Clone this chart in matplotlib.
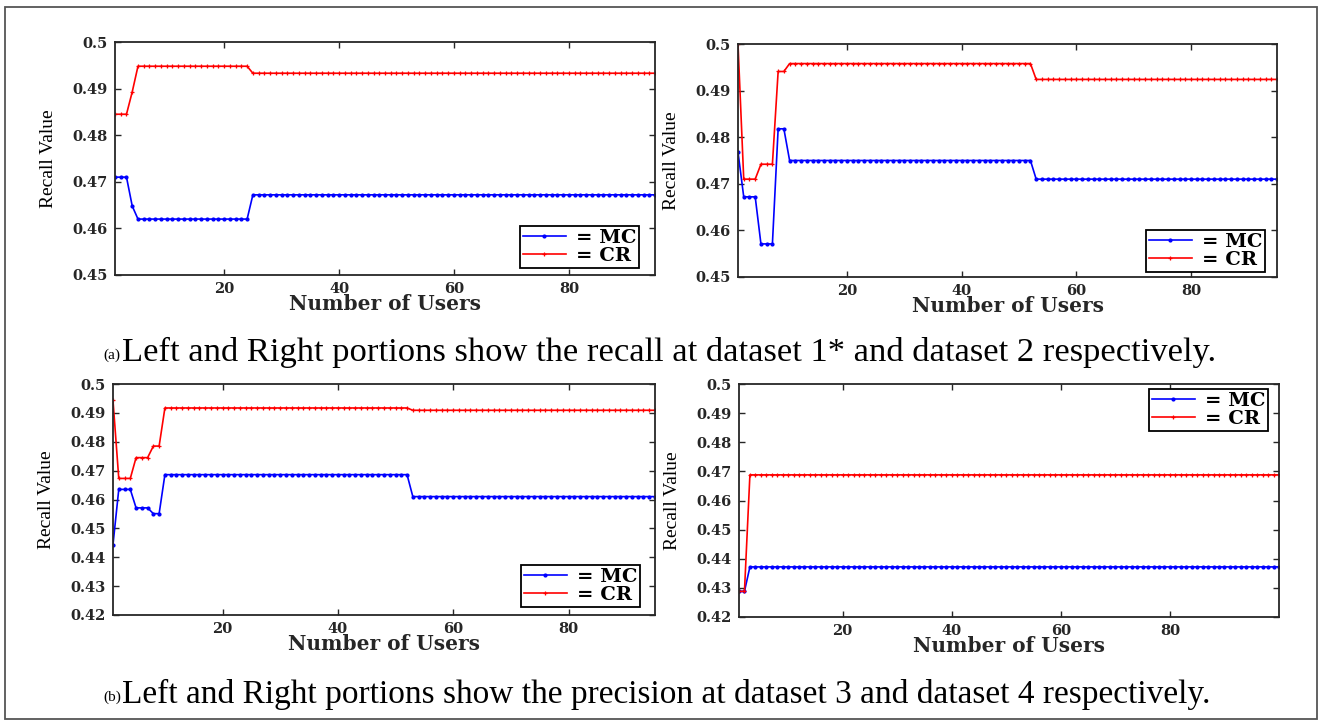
"""
Recall / precision vs number of users for four datasets (MC vs CR).
"""

import numpy as np
import matplotlib
matplotlib.use("Agg")
import matplotlib.pyplot as plt
from matplotlib.patches import Rectangle


# ==========================================================
# Data (run-length: value held for `count` consecutive users)
# ==========================================================

d1_mc_values = [0.4710, 0.4648, 0.4620, 0.4672]
d1_mc_counts = [3, 1, 20, 71]
d1_cr_values = [0.4845, 0.4893, 0.4948, 0.4933]
d1_cr_counts = [3, 1, 20, 71]

d2_mc_values = [0.4768, 0.4672, 0.4571, 0.4818, 0.4750, 0.4710]
d2_mc_counts = [1, 3, 3, 2, 43, 43]
d2_cr_values = [0.5000, 0.4710, 0.4742, 0.4941, 0.4958, 0.4924]
d2_cr_counts = [1, 3, 3, 2, 43, 43]

d3_mc_values = [0.4444, 0.4635, 0.4571, 0.4551, 0.4686, 0.4610]
d3_mc_counts = [1, 3, 3, 2, 43, 43]
d3_cr_values = [0.4943, 0.4673, 0.4745, 0.4785, 0.4917, 0.4909]
d3_cr_counts = [1, 3, 3, 2, 43, 43]

d4_mc_values = [0.4288, 0.4372]
d4_mc_counts = [2, 98]
d4_cr_values = [0.4288, 0.4688]
d4_cr_counts = [2, 98]

x_ticks = [20, 40, 60, 80]
y_ticks_top = [0.45, 0.46, 0.47, 0.48, 0.49, 0.5]
y_ticks_bottom = [0.42, 0.43, 0.44, 0.45, 0.46, 0.47, 0.48, 0.49, 0.5]

caption_a = "Left and Right portions show the recall at dataset 1* and dataset 2 respectively."
caption_b = "Left and Right portions show the precision at dataset 3 and dataset 4 respectively."


W, H = 1319, 725
TICK_FONT = dict(family="DejaVu Serif", weight="bold", size=10.5)
SERIF = "Liberation Serif"


def expand(values, counts):
    return np.repeat(values, counts)


def panel(fig, box, mc, cr, yticks, ylim, xlim, legend_anchor, legend_loc):
    left, top, right, bottom = box
    ax = fig.add_axes([
        left / W,
        1 - bottom / H,
        (right - left) / W,
        (bottom - top) / H,
    ])

    y_mc = expand(*mc)
    y_cr = expand(*cr)
    x = np.arange(1, len(y_mc) + 1)

    ax.plot(x, y_mc, color="#0000ff", lw=1.2, marker=".", ms=4,
            label="= MC")
    ax.plot(x, y_cr, color="#ff0000", lw=1.2, marker="+", ms=3.5, mew=0.9,
            label="= CR")

    ax.set_xlim(*xlim)
    ax.set_ylim(*ylim)
    ax.set_xticks(x_ticks)
    ax.set_yticks(yticks)
    ax.set_yticklabels([f"{v:g}" for v in yticks])
    ax.tick_params(direction="in", top=True, right=True, length=4,
                   width=1.0, color="#262626", pad=5)
    for lab in ax.get_xticklabels() + ax.get_yticklabels():
        lab.set_fontproperties(TICK_FONT)
        lab.set_color("#262626")
    for sp in ax.spines.values():
        sp.set_linewidth(1.3)
        sp.set_color("#262626")

    ax.set_xlabel("Number of Users", fontfamily="DejaVu Serif",
                  fontweight="bold", fontsize=14.5, color="#262626",
                  labelpad=-1.5)
    ax.set_ylabel("Recall Value", fontfamily=SERIF, fontsize=14,
                  color="black")
    ax.yaxis.set_label_coords(-58 / (right - left), 0.5)

    # legend anchor given as pixel offsets from the axes corner
    dx, dy = legend_anchor
    ax_w, ax_h = right - left, bottom - top
    leg = ax.legend(loc=legend_loc,
                    bbox_to_anchor=(1 - dx / ax_w, dy / ax_h
                                    if "lower" in legend_loc
                                    else 1 - dy / ax_h),
                    frameon=True, fancybox=False,
                    edgecolor="black", framealpha=1,
                    prop=dict(family="DejaVu Serif", weight="bold", size=14),
                    handlelength=2.2, handletextpad=0.5, borderpad=0.15,
                    labelspacing=0.0, borderaxespad=0)
    leg.get_frame().set_linewidth(1.3)
    return ax


fig = plt.figure(figsize=(W / 100, H / 100), dpi=100)

fig.patches.append(Rectangle((5 / W, 6 / H), 1312 / W, 712 / H,
                             transform=fig.transFigure, fill=False,
                             edgecolor="#555555", lw=1.3))

panel(fig, (115, 42, 655, 275), (d1_mc_values, d1_mc_counts),
      (d1_cr_values, d1_cr_counts), y_ticks_top, (0.45, 0.5), (1, 95),
      (16, 7), "lower right")
panel(fig, (738, 44, 1277, 277), (d2_mc_values, d2_mc_counts),
      (d2_cr_values, d2_cr_counts), y_ticks_top, (0.45, 0.5), (1, 95),
      (12, 5), "lower right")
panel(fig, (113, 384, 655, 615), (d3_mc_values, d3_mc_counts),
      (d3_cr_values, d3_cr_counts), y_ticks_bottom, (0.42, 0.5), (1, 95),
      (15, 8), "lower right")
panel(fig, (739, 384, 1279, 617), (d4_mc_values, d4_mc_counts),
      (d4_cr_values, d4_cr_counts), y_ticks_bottom, (0.42, 0.5), (1, 100),
      (11, 5), "upper right")

for tag, text, y, size in (("(a)", caption_a, 352, 24.8),
                           ("(b)", caption_b, 694, 24.0)):
    fig.text(103 / W, 1 - (y + 3) / H, tag, fontfamily=SERIF, fontsize=11,
             va="center", ha="left")
    fig.text(122 / W, 1 - y / H, text, fontfamily=SERIF, fontsize=size,
             va="center", ha="left")

fig.savefig("out.png", dpi=100)
plt.close(fig)
